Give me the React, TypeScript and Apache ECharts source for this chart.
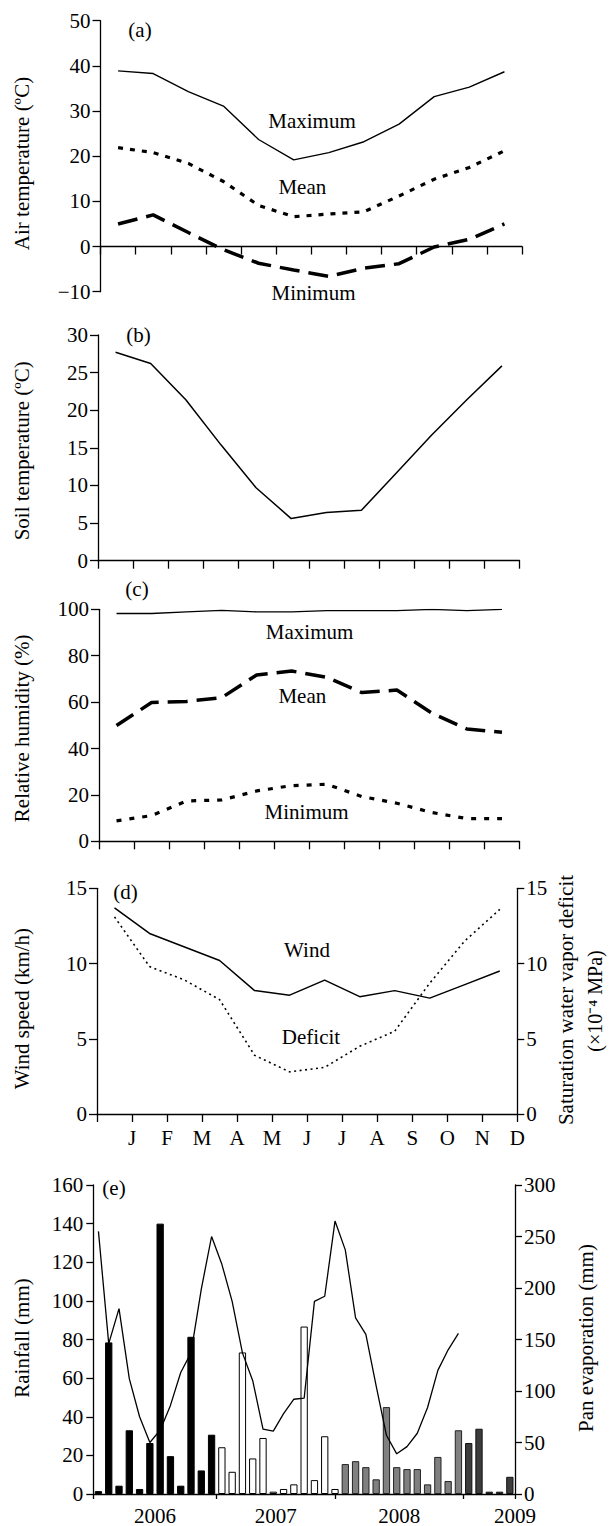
import React, { useEffect, useRef } from 'react';
import * as echarts from 'echarts';

// ---------- data ----------
const months = ['J', 'F', 'M', 'A', 'M', 'J', 'J', 'A', 'S', 'O', 'N', 'D'];

const airMax = [38.9, 38.3, 34.3, 31.1, 23.7, 19.2, 20.8, 23.2, 27.1, 33.2, 35.3, 38.7];
const airMean = [21.9, 20.8, 18.4, 14.4, 9.1, 6.6, 7.2, 7.7, 11.2, 14.9, 17.5, 21.2];
const airMin = [5.0, 7.0, 3.1, -0.7, -3.7, -5.2, -6.6, -4.8, -3.8, -0.1, 1.6, 5.0];

const soilTemp = [27.7, 26.2, 21.4, 15.4, 9.7, 5.6, 6.4, 6.7, 11.7, 16.7, 21.4, 25.9];

const rhMax = [98.2, 98.2, 98.9, 99.5, 98.9, 98.9, 99.4, 99.4, 99.4, 100, 99.4, 100];
const rhMean = [49.9, 59.8, 60.3, 61.9, 71.7, 73.4, 70.7, 64.1, 65.2, 55.2, 48.4, 47.0];
const rhMin = [8.8, 11.1, 17.4, 17.8, 21.7, 24.0, 24.6, 19.3, 16.4, 12.4, 9.8, 9.8];

const wind = [13.7, 12.0, 11.1, 10.2, 8.2, 7.9, 8.9, 7.8, 8.2, 7.7, 8.6, 9.5];
const deficit = [13.1, 9.8, 8.9, 7.6, 3.9, 2.8, 3.1, 4.5, 5.5, 8.7, 11.5, 13.6];

const rainfall = [
  1.5, 78.5, 4.3, 33, 2.6, 26.4, 140, 19.6, 4.3, 81.4, 12.2, 30.7,
  24.2, 11.5, 73.3, 18.4, 29, 1.2, 2.6, 5, 86.7, 7.2, 29.9, 2.6,
  15.5, 17, 13.9, 7.6, 45, 13.9, 12.9, 12.9, 5, 19.2, 6.7, 33,
  26.4, 33.8, 1.2, 1.2, 8.9,
];
const rainGroupSizes = [12, 12, 12, 5];
const panEvap = [
  255, 146, 180, 112, 75, 50, 62, 86, 118, 137, 199, 250,
  223, 187, 137, 110, 63, 61, 78, 92, 93, 187, 192, 265,
  237, 171, 155, 105, 57, 39, 46, 59, 84, 120, 140, 156,
  null, null, null, null, null,
];
const yearTickValues = [0, 12, 23.5, 36, 41];
const yearLabelValues = [6, 17.75, 29.75, 41];
const yearLabels = ['2006', '2007', '2008', '2009'];

// ---------- styles ----------
const FONT = 'Liberation Serif';
const FS = 21;
const BLACK = '#000';
const groupStyles = [
  { color: '#000000', borderColor: '#000000', borderWidth: 1 },
  { color: '#ffffff', borderColor: '#000000', borderWidth: 1 },
  { color: '#808080', borderColor: '#222222', borderWidth: 1 },
  { color: '#3c3c3c', borderColor: '#111111', borderWidth: 1 },
];

const rainCategories: string[] = [];
{
  const mn = ['Jan', 'Feb', 'Mar', 'Apr', 'May', 'Jun', 'Jul', 'Aug', 'Sep', 'Oct', 'Nov', 'Dec'];
  let m = 11;
  let y = 2005;
  for (let i = 0; i < rainfall.length; i++) {
    rainCategories.push(mn[m] + ' ' + y);
    m++;
    if (m > 11) { m = 0; y++; }
  }
}

function groupOf(i: number) {
  let acc = 0;
  for (let g = 0; g < rainGroupSizes.length; g++) {
    acc += rainGroupSizes[g];
    if (i < acc) return g;
  }
  return rainGroupSizes.length - 1;
}

const grids = [
  { left: 100.5, top: 20.7, width: 421.5, height: 271 },
  { left: 98, top: 335, width: 421.5, height: 225.7 },
  { left: 99, top: 609.3, width: 420.5, height: 232 },
  { left: 97, top: 888.3, width: 420.3, height: 225.7 },
  { left: 93.3, top: 1185, width: 421.7, height: 309.5 },
];

const lineW = 1.3;
const axisLine = { lineStyle: { color: BLACK, width: lineW } };
const tick = (len: number) => ({ length: len, lineStyle: { color: BLACK, width: lineW } });
const label = (margin: number) => ({ color: BLACK, fontFamily: FONT, fontSize: FS, margin });

const fmtNum = (v: number) => (v < 0 ? '\u2212' + Math.abs(v) : String(v));

function monthX(gridIndex: number, withLabels: boolean, onZero: boolean) {
  return {
    type: 'value',
    gridIndex,
    min: 0,
    max: 12,
    interval: 1,
    axisLine: { ...axisLine, onZero },
    axisTick: tick(8),
    axisLabel: withLabels
      ? { ...label(13), formatter: (v: number) => (v >= 1 ? months[v - 1] : '') }
      : { show: false },
    splitLine: { show: false },
  };
}

function valY(gridIndex: number, min: number, max: number, interval: number, position = 'left', margin = 10) {
  return {
    type: 'value',
    gridIndex,
    min,
    max,
    interval,
    position,
    axisLine: { ...axisLine, show: true, onZero: false },
    axisTick: { show: true, ...tick(position === 'left' ? 8 : 7) },
    axisLabel: { ...label(margin), formatter: fmtNum },
    splitLine: { show: false },
  };
}

const pts = (arr: number[]) => arr.map((v, i) => [i + 0.5, v]);

function line(name: string, x: number, y: number, data: number[], width: number, type: any) {
  return {
    name,
    type: 'line',
    xAxisIndex: x,
    yAxisIndex: y,
    data: pts(data),
    symbol: 'none',
    lineStyle: { color: BLACK, width, type },
  };
}

function txt(x: number, y: number, text: string, rotate = false, size = FS) {
  return {
    type: 'text',
    x,
    y,
    rotation: rotate ? Math.PI / 2 : 0,
    style: {
      text,
      fill: BLACK,
      fontFamily: FONT,
      fontSize: size,
      align: 'center',
      verticalAlign: 'middle',
      textAlign: 'center',
      textVerticalAlign: 'middle',
    },
  };
}

const option: any = {
  animation: false,
  backgroundColor: '#fff',
  textStyle: { fontFamily: FONT },
  grid: grids.map((g) => ({ ...g, containLabel: false })),
  xAxis: [
    monthX(0, false, true),
    monthX(1, false, false),
    monthX(2, false, false),
    monthX(3, true, false),
    {
      type: 'category',
      gridIndex: 4,
      data: rainCategories,
      boundaryGap: true,
      show: false,
      position: 'bottom',
    },
    {
      type: 'value',
      gridIndex: 4,
      min: 0,
      max: rainfall.length,
      position: 'bottom',
      axisLine: { ...axisLine, onZero: false },
      axisTick: { ...tick(5), customValues: yearTickValues },
      axisLabel: {
        ...label(11),
        customValues: yearLabelValues,
        formatter: (v: number) => {
          const k = yearLabelValues.indexOf(v);
          return k >= 0 ? yearLabels[k] : '';
        },
      },
      splitLine: { show: false },
    },
  ],
  yAxis: [
    valY(0, -10, 50, 10),
    valY(1, 0, 30, 5),
    valY(2, 0, 100, 20),
    valY(3, 0, 15, 5),
    valY(3, 0, 15, 5, 'right', 9),
    { ...valY(4, 0, 160, 20), axisTick: { show: true, ...tick(7) } },
    valY(4, 0, 300, 50, 'right', 9),
  ],
  series: [
    line('Maximum', 0, 0, airMax, 1.4, 'solid'),
    line('Mean', 0, 0, airMean, 3.2, [5, 7]),
    line('Minimum', 0, 0, airMin, 3.5, [20, 9]),
    line('Soil', 1, 1, soilTemp, 1.5, 'solid'),
    line('RH Maximum', 2, 2, rhMax, 1.3, 'solid'),
    line('RH Mean', 2, 2, rhMean, 3.5, [20, 9]),
    line('RH Minimum', 2, 2, rhMin, 3.2, [5, 8]),
    line('Wind', 3, 3, wind, 1.5, 'solid'),
    line('Deficit', 3, 4, deficit, 1.6, [2, 3.5]),
    {
      name: 'Rainfall',
      type: 'bar',
      xAxisIndex: 4,
      yAxisIndex: 5,
      barWidth: 7.3,
      data: rainfall.map((v, i) => ({ value: v, itemStyle: groupStyles[groupOf(i)] })),
    },
    {
      name: 'Pan evaporation',
      type: 'line',
      xAxisIndex: 4,
      yAxisIndex: 6,
      data: panEvap,
      symbol: 'none',
      connectNulls: false,
      lineStyle: { color: BLACK, width: 1.3 },
      z: 3,
    },
  ],
  graphic: [
    // panel labels
    txt(140, 30, '(a)'),
    txt(138.5, 335, '(b)'),
    txt(137, 589.3, '(c)'),
    txt(125.4, 891.7, '(d)'),
    txt(114, 1188, '(e)'),
    // annotations
    txt(312, 121, 'Maximum'),
    txt(302.3, 187, 'Mean'),
    txt(313.5, 293.3, 'Minimum'),
    txt(309.6, 631.7, 'Maximum'),
    txt(302.3, 695.7, 'Mean'),
    txt(306.6, 812.3, 'Minimum'),
    txt(307, 950, 'Wind'),
    txt(311, 1036.7, 'Deficit'),
    // axis names
    txt(21.5, 163.5, 'Air temperature (ºC)', true),
    txt(21.5, 450.8, 'Soil temperature (ºC)', true),
    txt(21.5, 728.3, 'Relative humidity (%)', true),
    txt(21.5, 1008.6, 'Wind speed (km/h)', true),
    txt(22, 1338, 'Rainfall (mm)', true),
    txt(566, 1000, 'Saturation water vapor deficit', true),
    txt(595, 1001, '(×10⁻⁴ MPa)', true, 20),
    txt(586, 1338, 'Pan evaporation (mm)', true),
  ],
};

export default function App() {
  const ref = useRef<HTMLDivElement>(null);
  useEffect(() => {
    if (!ref.current) return;
    const chart = echarts.init(ref.current, undefined, { renderer: 'svg' });
    chart.setOption(option);
    return () => chart.dispose();
  }, []);
  return (
    <div
      ref={ref}
      style={{ position: 'absolute', left: 0, top: 0, width: 610, height: 1526, background: '#fff' }}
    />
  );
}
